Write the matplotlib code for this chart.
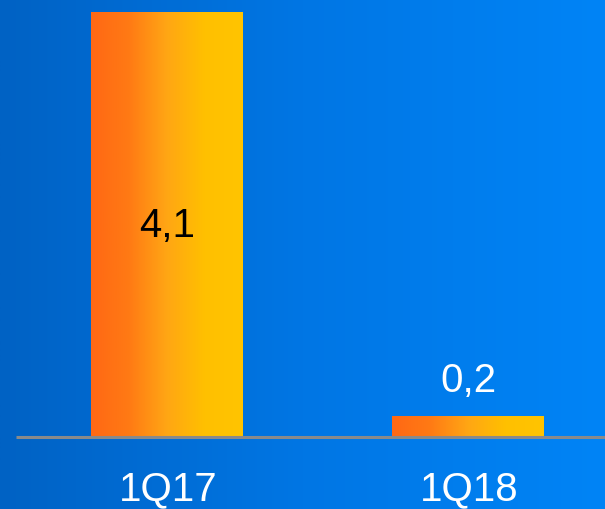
import matplotlib
matplotlib.use('Agg')
import matplotlib.pyplot as plt
from matplotlib.colors import LinearSegmentedColormap
import numpy as np

categories = ['1Q17', '1Q18']
values = [4.1, 0.2]
value_labels = ['4,1', '0,2']

plt.rcParams['font.family'] = ['Liberation Sans', 'DejaVu Sans']

fig = plt.figure(figsize=(6.05, 5.09), dpi=100)
ax = fig.add_axes([0, 0, 1, 1])
ax.set_xlim(-0.554, 1.453)
ax.set_ylim(-0.694, 4.214)
ax.axis('off')

# background gradient (dark blue -> light blue, left to right)
bg_cmap = LinearSegmentedColormap.from_list('bg', ['#0062c4', '#0076e4', '#0084f6'])
grad = np.linspace(0, 1, 256).reshape(1, -1)
ax.imshow(grad, cmap=bg_cmap, aspect='auto', extent=[-0.554, 1.453, -0.694, 4.214], zorder=0)

# bars with orange -> yellow gradient
bar_cmap = LinearSegmentedColormap.from_list('bar', ['#ff6814', '#ff7a14', '#ffa614', '#ffc000', '#ffc400'])
x = np.arange(len(categories))
bars = ax.bar(x, values, width=0.504, color='none', edgecolor='none', zorder=2)
for b in bars:
    x0, y0, w, h = b.get_x(), b.get_y(), b.get_width(), b.get_height()
    im = ax.imshow(grad, cmap=bar_cmap, aspect='auto', extent=[x0, x0 + w, y0, y0 + h], zorder=2)
    im.set_clip_path(b)

ax.set_xlim(-0.554, 1.453)
ax.set_ylim(-0.694, 4.214)

# baseline
ax.plot([-0.5, 1.453], [0, 0], color='#8a8a8a', lw=2.2, zorder=3, solid_capstyle='butt')

# value labels
ax.annotate(value_labels[0], (x[0], values[0] / 2), xytext=(0, -9), textcoords='offset points',
            ha='center', va='baseline', fontsize=29, color='black', zorder=4)
ax.annotate(value_labels[1], (x[1], values[1]), xytext=(0, 17.3), textcoords='offset points',
            ha='center', va='baseline', fontsize=29, color='white', zorder=4)

# category labels
for xi, cat in zip(x, categories):
    ax.annotate(cat, (xi, 0), xytext=(0.5, -45.4), textcoords='offset points',
                ha='center', va='baseline', fontsize=29, color='white', zorder=4)

fig.savefig('out.png', dpi=100)
